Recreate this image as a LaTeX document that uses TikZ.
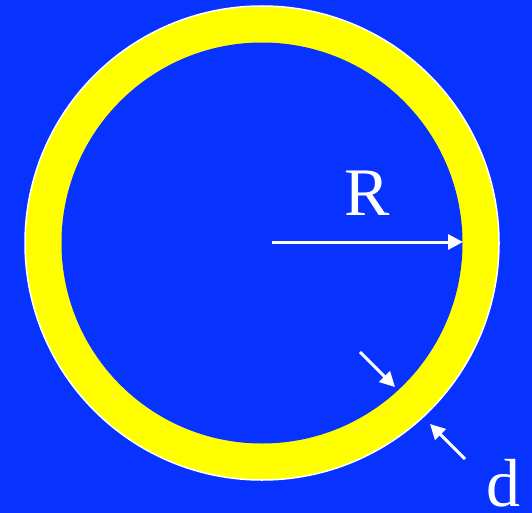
\documentclass[tikz,border=0pt]{standalone}
\usepackage{fontspec}
\setmainfont{Liberation Serif}
\usetikzlibrary{arrows.meta}
\definecolor{bgblue}{RGB}{8,51,255}
\definecolor{ringyellow}{RGB}{255,255,0}
\begin{document}
\begin{tikzpicture}[x=1pt,y=-1pt,
  dimarrow/.style={white,line width=3pt,-{Triangle[length=15pt,width=15pt]}},
  lbl/.style={text=white,font=\fontsize{68}{68}\selectfont,inner sep=0pt}]
\fill[bgblue] (0,0) rectangle (532,513);
\useasboundingbox (0,0) rectangle (532,513);
\coordinate (c) at (262,243);
\fill[ringyellow] (c) circle[radius=237];
\draw[white,line width=1.5pt] (c) circle[radius=237];
\fill[bgblue] (c) circle[radius=200.5];
\coordinate (rs) at (272,242);
\coordinate (re) at (463,242);
\draw[dimarrow] (rs) -- (re);
\node[lbl] (R) at (367,193) {R};
\coordinate (a1s) at (360,352);
\coordinate (a1e) at (395,387);
\draw[dimarrow] (a1s) -- (a1e);
\coordinate (a2s) at (465,459);
\coordinate (a2e) at (430,424);
\draw[dimarrow] (a2s) -- (a2e);
\node[lbl] (d) at (503,483) {d};
\end{tikzpicture}
\end{document}
